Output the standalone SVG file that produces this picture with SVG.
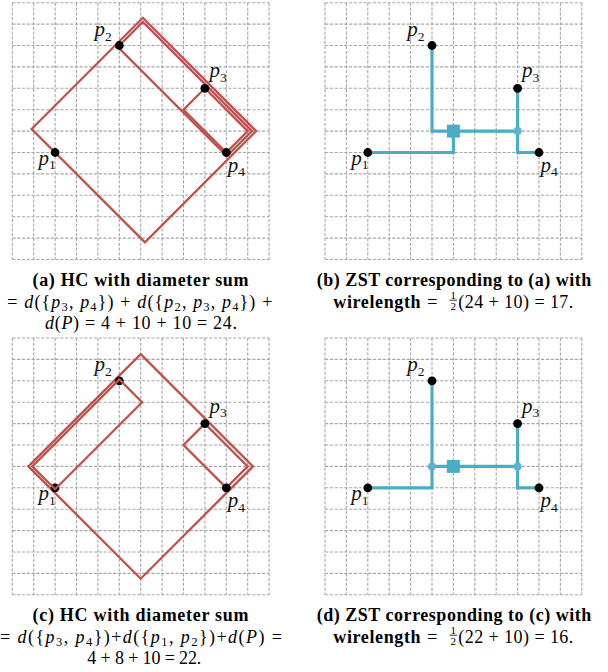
<svg xmlns="http://www.w3.org/2000/svg" width="608" height="672" viewBox="0 0 608 672">
<style>
.grid{fill:none;stroke:#a6a6a6;stroke-width:1.1;stroke-dasharray:3.2 1.6}
.hc{fill:none;stroke:#c0504d;stroke-width:2.3;stroke-linejoin:miter}
.zst{fill:none;stroke:#4bacc6;stroke-width:3.2;stroke-linejoin:miter}
.stn{fill:#4bacc6}
.bend{fill:#5bb3cc}
.pt{fill:#000}
.lbl{font-family:"Liberation Serif",serif;font-size:21px;font-style:italic;fill:#111}
.sub{font-size:13.5px;font-style:normal}
.capb{font-family:"Liberation Serif",serif;font-size:18px;font-weight:bold;fill:#000}
.cap{font-family:"Liberation Serif",serif;font-size:18px;fill:#000}
.it{font-style:italic}
.s2{font-size:12.5px}
.frac{font-family:"Liberation Serif",serif;font-size:11px;fill:#000}
</style>
<defs>
<g id="grid"><path class="grid" d="M0 0V256.8M21.4 0V256.8M42.8 0V256.8M64.2 0V256.8M85.6 0V256.8M107 0V256.8M128.4 0V256.8M149.8 0V256.8M171.2 0V256.8M192.6 0V256.8M214 0V256.8M235.4 0V256.8M256.8 0V256.8M0 0H256.8M0 21.4H256.8M0 42.8H256.8M0 64.2H256.8M0 85.6H256.8M0 107H256.8M0 128.4H256.8M0 149.8H256.8M0 171.2H256.8M0 192.6H256.8M0 214H256.8M0 235.4H256.8M0 256.8H256.8"/></g>
</defs>

<!-- Panel (a) -->
<g id="panel-a">
<use href="#grid" x="12.3" y="2.7"/>
<g id="a-clusters">
<polygon class="hc" points="31.6,129 142.8,17.8 256.1,131.1 144.9,242.3"/>
<polygon class="hc" points="117.8,47 142.8,22 251.9,131.1 226.9,156.1"/>
<polygon class="hc" points="204.9,88.3 247.7,131.1 226.3,152.5 183.5,109.7"/>
</g>
<g id="a-p1"><circle class="pt" cx="55.1" cy="152.5" r="4.4"/><text class="lbl" x="38.6" y="164.5">p<tspan class="sub" dy="4.5">1</tspan></text></g>
<g id="a-p2"><circle class="pt" cx="119.3" cy="45.5" r="4.4"/><text class="lbl" x="94.5" y="36">p<tspan class="sub" dy="4.5">2</tspan></text></g>
<g id="a-p3"><circle class="pt" cx="204.9" cy="88.3" r="4.4"/><text class="lbl" x="209.4" y="77.3">p<tspan class="sub" dy="4.5">3</tspan></text></g>
<g id="a-p4"><circle class="pt" cx="226.3" cy="152.5" r="4.4"/><text class="lbl" x="227.8" y="171.5">p<tspan class="sub" dy="4.5">4</tspan></text></g>
</g>

<!-- Panel (b) -->
<g id="panel-b">
<use href="#grid" x="325" y="2.7"/>
<g id="b-connectors">
<path class="zst" d="M432 45.5V131.1H517.6"/>
<path class="zst" d="M453.4 131.1V152.5H367.8"/>
<path class="zst" d="M517.6 88.3V152.5H539"/>
</g>
<g id="b-steiner"><rect class="stn" x="446.9" y="124.6" width="13" height="13"/></g>
<g id="b-bend"><circle class="bend" cx="517.6" cy="131.1" r="4"/></g>
<g id="b-p1"><circle class="pt" cx="367.8" cy="152.5" r="4.4"/><text class="lbl" x="351.3" y="164.5">p<tspan class="sub" dy="4.5">1</tspan></text></g>
<g id="b-p2"><circle class="pt" cx="432" cy="45.5" r="4.4"/><text class="lbl" x="407.2" y="36">p<tspan class="sub" dy="4.5">2</tspan></text></g>
<g id="b-p3"><circle class="pt" cx="517.6" cy="88.3" r="4.4"/><text class="lbl" x="522.1" y="77.3">p<tspan class="sub" dy="4.5">3</tspan></text></g>
<g id="b-p4"><circle class="pt" cx="539" cy="152.5" r="4.4"/><text class="lbl" x="540.5" y="171.5">p<tspan class="sub" dy="4.5">4</tspan></text></g>
</g>

<!-- Panel (c) -->
<g id="panel-c">
<use href="#grid" x="12.3" y="338"/>
<g id="c-clusters">
<polygon class="hc" points="28.4,466.4 140.7,354.1 253,466.4 140.7,578.7"/>
<polygon class="hc" points="204.9,423.6 247.7,466.4 226.3,487.8 183.5,445"/>
</g>
<g id="c-p1"><circle class="pt" cx="55.1" cy="487.8" r="4.4"/><text class="lbl" x="38.6" y="500.3">p<tspan class="sub" dy="4.5">1</tspan></text></g>
<g id="c-p2"><circle class="pt" cx="119.3" cy="380.8" r="4.4"/><text class="lbl" x="94.5" y="371.3">p<tspan class="sub" dy="4.5">2</tspan></text></g>
<g id="c-p3"><circle class="pt" cx="204.9" cy="423.6" r="4.4"/><text class="lbl" x="209.4" y="412.6">p<tspan class="sub" dy="4.5">3</tspan></text></g>
<g id="c-p4"><circle class="pt" cx="226.3" cy="487.8" r="4.4"/><text class="lbl" x="227.8" y="507">p<tspan class="sub" dy="4.5">4</tspan></text></g>
<g id="c-cluster-p1p2"><polygon class="hc" points="32.3,466.4 119.3,379.4 142.1,402.2 55.1,489.2"/></g>
</g>

<!-- Panel (d) -->
<g id="panel-d">
<use href="#grid" x="325" y="338"/>
<g id="d-connectors">
<path class="zst" d="M432 380.8V487.8H367.8"/>
<path class="zst" d="M432 466.4H517.6"/>
<path class="zst" d="M517.6 423.6V487.8H539"/>
</g>
<g id="d-steiner"><rect class="stn" x="446.9" y="459.9" width="13" height="13"/></g>
<g id="d-bend1"><circle class="bend" cx="432" cy="466.4" r="4"/></g>
<g id="d-bend2"><circle class="bend" cx="517.6" cy="466.4" r="4"/></g>
<g id="d-p1"><circle class="pt" cx="367.8" cy="487.8" r="4.4"/><text class="lbl" x="351.3" y="500.3">p<tspan class="sub" dy="4.5">1</tspan></text></g>
<g id="d-p2"><circle class="pt" cx="432" cy="380.8" r="4.4"/><text class="lbl" x="407.2" y="371.3">p<tspan class="sub" dy="4.5">2</tspan></text></g>
<g id="d-p3"><circle class="pt" cx="517.6" cy="423.6" r="4.4"/><text class="lbl" x="522.1" y="412.6">p<tspan class="sub" dy="4.5">3</tspan></text></g>
<g id="d-p4"><circle class="pt" cx="539" cy="487.8" r="4.4"/><text class="lbl" x="540.5" y="507">p<tspan class="sub" dy="4.5">4</tspan></text></g>
</g>

<!-- Captions -->
<g id="caption-a">
<text class="capb" x="140.5" y="286" text-anchor="middle" textLength="216" lengthAdjust="spacing">(a) HC with diameter sum</text>
<text class="cap" x="7.3" y="307.7" textLength="265" lengthAdjust="spacing">= <tspan class="it">d</tspan>({<tspan class="it">p</tspan><tspan class="s2" dy="3">3</tspan><tspan dy="-3">, </tspan><tspan class="it">p</tspan><tspan class="s2" dy="3">4</tspan><tspan dy="-3">}) + </tspan><tspan class="it">d</tspan>({<tspan class="it">p</tspan><tspan class="s2" dy="3">2</tspan><tspan dy="-3">, </tspan><tspan class="it">p</tspan><tspan class="s2" dy="3">3</tspan><tspan dy="-3">, </tspan><tspan class="it">p</tspan><tspan class="s2" dy="3">4</tspan><tspan dy="-3">}) +</tspan></text>
<text class="cap" x="45" y="329" textLength="192" lengthAdjust="spacing"><tspan class="it">d</tspan>(<tspan class="it">P</tspan>) = 4 + 10 + 10 = 24.</text>
</g>
<g id="caption-b">
<text class="capb" x="454" y="286" text-anchor="middle" textLength="274.6" lengthAdjust="spacing">(b) ZST corresponding to (a) with</text>
<text class="capb" x="333.3" y="308.3" textLength="87.3" lengthAdjust="spacing">wirelength</text>
<text class="cap" x="432.3" y="308.3" text-anchor="middle">=</text>
<text class="frac" x="453.3" y="298.6" text-anchor="middle">1</text>
<line x1="449.5" y1="300.2" x2="457.1" y2="300.2" stroke="#000" stroke-width="0.8"/>
<text class="frac" x="453.3" y="309.6" text-anchor="middle">2</text>
<text class="cap" x="458.3" y="308.3" textLength="115" lengthAdjust="spacing">(24 + 10) = 17.</text>
</g>
<g id="caption-c">
<text class="capb" x="140.5" y="621" text-anchor="middle" textLength="216" lengthAdjust="spacing">(c) HC with diameter sum</text>
<text class="cap" x="0" y="642.7" textLength="282" lengthAdjust="spacing">= <tspan class="it">d</tspan>({<tspan class="it">p</tspan><tspan class="s2" dy="3">3</tspan><tspan dy="-3">, </tspan><tspan class="it">p</tspan><tspan class="s2" dy="3">4</tspan><tspan dy="-3">})+</tspan><tspan class="it">d</tspan>({<tspan class="it">p</tspan><tspan class="s2" dy="3">1</tspan><tspan dy="-3">, </tspan><tspan class="it">p</tspan><tspan class="s2" dy="3">2</tspan><tspan dy="-3">})+</tspan><tspan class="it">d</tspan>(<tspan class="it">P</tspan>) =</text>
<text class="cap" x="87.3" y="664" textLength="114" lengthAdjust="spacing">4 + 8 + 10 = 22.</text>
</g>
<g id="caption-d">
<text class="capb" x="454" y="621" text-anchor="middle" textLength="274.6" lengthAdjust="spacing">(d) ZST corresponding to (c) with</text>
<text class="capb" x="333.3" y="643.3" textLength="87.3" lengthAdjust="spacing">wirelength</text>
<text class="cap" x="432.3" y="643.3" text-anchor="middle">=</text>
<text class="frac" x="453.3" y="633.6" text-anchor="middle">1</text>
<line x1="449.5" y1="635.2" x2="457.1" y2="635.2" stroke="#000" stroke-width="0.8"/>
<text class="frac" x="453.3" y="644.6" text-anchor="middle">2</text>
<text class="cap" x="458.3" y="643.3" textLength="115" lengthAdjust="spacing">(22 + 10) = 16.</text>
</g>
</svg>
